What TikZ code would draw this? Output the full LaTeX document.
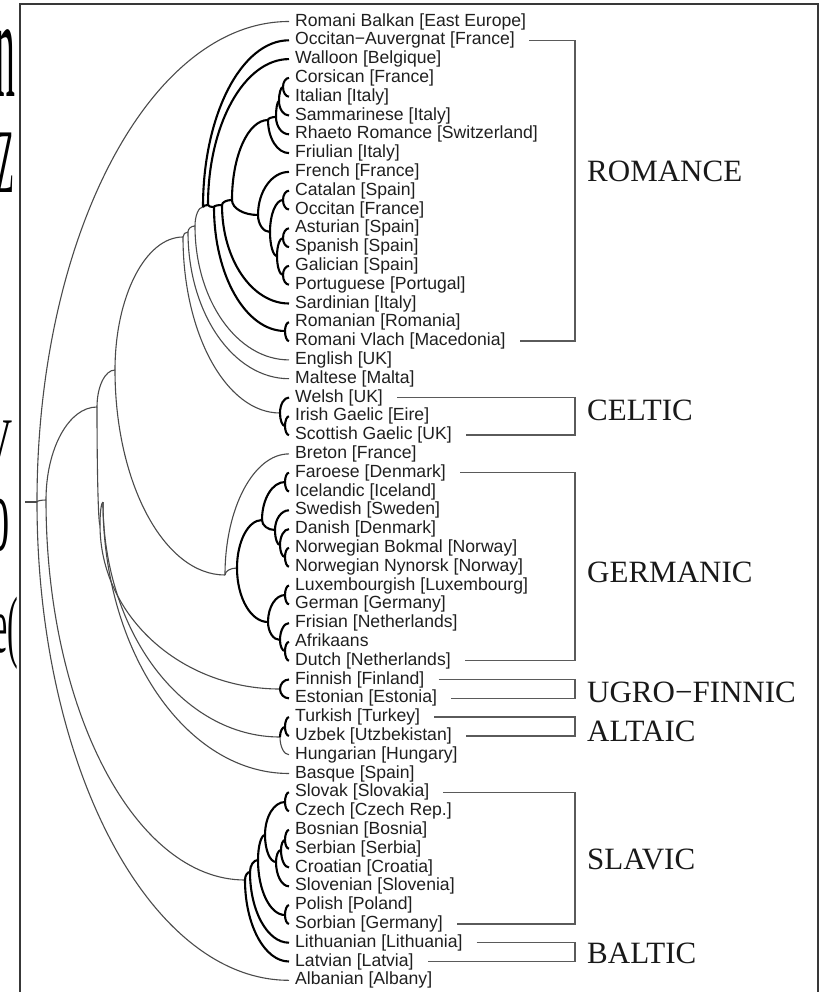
\documentclass[tikz,border=0pt]{standalone}
\usepackage{fontspec}
\setmainfont{Liberation Serif}
\setsansfont{Liberation Sans}
\usetikzlibrary{calc}

\definecolor{twiggray}{HTML}{4A4A4A}
\definecolor{bracketgray}{HTML}{5A5A5A}

\tikzset{
  leaf/.style={anchor=west, inner xsep=6pt, inner ysep=0pt, text height=12.8pt, text depth=3.7pt,
    font=\sffamily\fontsize{17.6}{18}\selectfont, text=black!88},
  family/.style={anchor=base west, inner sep=0pt, font=\fontsize{31}{32}\selectfont, text=black!90},
  shard/.style={anchor=base east, inner sep=0pt, text depth=0pt, text=black},
  branch/.style={to path={.. controls ($(\tikztostart)!0.5523!(\tikztostart|-\tikztotarget)$)
      and ($(\tikztotarget)!0.5523!(\tikztostart|-\tikztotarget)$) .. (\tikztotarget)}},
  twig/.style={draw=twiggray, line width=1.1pt},
  bough/.style={draw=black, line width=2.1pt},
  bracket/.style={draw=bracketgray, line width=1.4pt},
}

\begin{document}
\begin{tikzpicture}[x=1pt, y=-1pt]
  \useasboundingbox (0,0) rectangle (821,992);

  % pieces of a larger text cut by the left edge
  \begin{scope}
    \clip (0,0) rectangle (18.5,992);
    \node[shard, font=\fontsize{142}{142}\selectfont, xscale=0.28] (sh1) at (15,97) {n};
    \node[shard, font=\fontsize{91}{91}\selectfont, xscale=0.32] (sh2) at (14,193) {Z};
    \node[shard, font=\fontsize{65}{65}\selectfont, xscale=0.62] (sh3) at (13,463) {V};
    \node[shard, font=\fontsize{109}{109}\selectfont, xscale=0.37] (sh4) at (10,550) {o};
    \node[shard, font=\fontsize{80}{80}\selectfont, xscale=0.4] (sh5) at (18,652) {e(};
  \end{scope}
  \draw[line width=1.8pt, black!78] (20,1000) |- (818,4) -- (818,1000);

  % leaves
  \foreach \nm/\txt [count=\i] in {
    rbal/{Romani Balkan [East Europe]}, occa/{Occitan−Auvergnat [France]}, wal/{Walloon [Belgique]},
    cor/{Corsican [France]}, ita/{Italian [Italy]}, sam/{Sammarinese [Italy]},
    rha/{Rhaeto Romance [Switzerland]}, fri/{Friulian [Italy]}, fre/{French [France]},
    cat/{Catalan [Spain]}, occ/{Occitan [France]}, ast/{Asturian [Spain]}, spa/{Spanish [Spain]},
    gal/{Galician [Spain]}, por/{Portuguese [Portugal]}, srd/{Sardinian [Italy]},
    rom/{Romanian [Romania]}, vla/{Romani Vlach [Macedonia]}, eng/{English [UK]}, mal/{Maltese [Malta]},
    wel/{Welsh [UK]}, iri/{Irish Gaelic [Eire]}, sco/{Scottish Gaelic [UK]}, bre/{Breton [France]},
    far/{Faroese [Denmark]}, ice/{Icelandic [Iceland]}, swe/{Swedish [Sweden]}, dan/{Danish [Denmark]},
    nbo/{Norwegian Bokmal [Norway]}, nny/{Norwegian Nynorsk [Norway]},
    lux/{Luxembourgish [Luxembourg]}, ger/{German [Germany]}, frs/{Frisian [Netherlands]},
    afr/{Afrikaans}, dut/{Dutch [Netherlands]}, fin/{Finnish [Finland]}, est/{Estonian [Estonia]},
    tur/{Turkish [Turkey]}, uzb/{Uzbek [Utzbekistan]}, hun/{Hungarian [Hungary]}, bas/{Basque [Spain]},
    slk/{Slovak [Slovakia]}, cze/{Czech [Czech Rep.]}, bos/{Bosnian [Bosnia]}, ser/{Serbian [Serbia]},
    cro/{Croatian [Croatia]}, slv/{Slovenian [Slovenia]}, pol/{Polish [Poland]}, sor/{Sorbian [Germany]},
    lit/{Lithuanian [Lithuania]}, lat/{Latvian [Latvia]}, alb/{Albanian [Albany]}}
    \node[leaf] (\nm) at (289, {21.5+(\i-1)*18.8}) {\txt};

  % inner nodes of the tree
  \coordinate (rt) at (25,502);   \coordinate (r0) at (37,502);   \coordinate (r1) at (46,500);
  \coordinate (na) at (97,407);   \coordinate (nb) at (115,370);
  \coordinate (nf) at (100,525);  \coordinate (nf2) at (103,502);
  \coordinate (e1) at (183,237);  \coordinate (e2) at (188,232);  \coordinate (e3) at (195,226);
  \coordinate (ro1) at (203,207); \coordinate (ro2) at (208,205); \coordinate (ro3) at (214,207);
  \coordinate (ro4) at (222,205); \coordinate (ro5) at (232,200);
  \coordinate (nit1) at (283,87); \coordinate (nit2) at (279,101); \coordinate (nit3) at (276,117);
  \coordinate (nit4) at (268,120);
  \coordinate (nib1) at (283,200); \coordinate (nib2) at (283,238); \coordinate (nib3) at (283,275);
  \coordinate (nib4) at (277,256); \coordinate (nib5) at (270,232); \coordinate (nib6) at (258,215);
  \coordinate (nrv) at (285,331);
  \coordinate (nce) at (280,413); \coordinate (nce1) at (285,426);
  \coordinate (nbg) at (225,575); \coordinate (nge) at (237,568);
  \coordinate (nsc) at (262,520); \coordinate (nfi) at (285,482);
  \coordinate (nno3) at (275,530); \coordinate (nno2) at (280,545); \coordinate (nno1) at (285,557);
  \coordinate (nwg) at (268,622); \coordinate (nlg) at (285,595);
  \coordinate (nfad) at (280,640); \coordinate (nad) at (285,651);
  \coordinate (nfe) at (280,689);
  \coordinate (nal) at (280,737); \coordinate (ntu) at (285,727);
  \coordinate (nsb) at (245,880); \coordinate (nsb1) at (250,872);
  \coordinate (nsl) at (258,860); \coordinate (nsl1) at (265,835);
  \coordinate (nsc1) at (285,802); \coordinate (nbs3) at (276,862);
  \coordinate (nbs2) at (281,850); \coordinate (nbs1) at (285,840);
  \coordinate (nps) at (285,915);

  \draw[twig] (rt) -- (r0);
  \foreach \a/\b in {r0/rbal.west, r0/alb.west, r0/r1, r1/na, r1/nsb, na/nb, na/nf,
      nf/nfe, nf/nf2, nf2/nal, nf2/bas.west, nb/e1, nb/nbg, e1/e2, e1/nce, e2/e3,
      e2/mal.west, e3/ro1, e3/eng.west, nbg/bre.west, nbg/nge, nal/hun.west}
    \draw[twig] (\a) to[branch] (\b);

  \foreach \a/\b in {ro1/occa.west, ro1/ro2, ro2/wal.west, ro2/ro3, ro3/ro4, ro3/nrv,
      ro4/ro5, ro4/srd.west, ro5/nit4, ro5/nib6,
      nit4/nit3, nit4/fri.west, nit3/nit2, nit3/rha.west, nit2/nit1, nit2/sam.west,
      nit1/cor.west, nit1/ita.west,
      nib6/fre.west, nib6/nib5, nib5/nib1, nib5/nib4, nib1/cat.west, nib1/occ.west,
      nib4/nib2, nib4/nib3, nib2/ast.west, nib2/spa.west, nib3/gal.west, nib3/por.west,
      nrv/rom.west, nrv/vla.west,
      nce/wel.west, nce/nce1, nce1/iri.west, nce1/sco.west,
      nge/nsc, nge/nwg, nsc/nfi, nsc/nno3, nfi/far.west, nfi/ice.west,
      nno3/swe.west, nno3/nno2, nno2/dan.west, nno2/nno1, nno1/nbo.west, nno1/nny.west,
      nwg/nlg, nwg/nfad, nlg/lux.west, nlg/ger.west, nfad/frs.west, nfad/nad,
      nad/afr.west, nad/dut.west,
      nfe/fin.west, nfe/est.west, nal/ntu, ntu/tur.west, ntu/uzb.west,
      nsb/nsb1, nsb/lat.west, nsb1/nsl, nsb1/lit.west, nsl/nsl1, nsl/nps,
      nsl1/nsc1, nsl1/nbs3, nsc1/slk.west, nsc1/cze.west, nbs3/nbs2, nbs3/slv.west,
      nbs2/nbs1, nbs2/cro.west, nbs1/bos.west, nbs1/ser.west, nps/pol.west, nps/sor.west}
    \draw[bough] (\a) to[branch] (\b);

  % family brackets
  \coordinate (bx) at (575,0);
  \foreach \u/\l in {occa/vla, wel/sco, far/dut, fin/est, tur/uzb, slk/sor, lit/lat}
    \draw[bracket] ([xshift=8pt]\u.east) -- (\u.east -| bx) -- (\l.east -| bx) -- ([xshift=8pt]\l.east);

  \node[family] (romance) at (587,182) {ROMANCE};
  \node[family] (celtic) at (587,420) {CELTIC};
  \node[family] (germanic) at (587,582) {GERMANIC};
  \node[family] (ugro) at (587,702) {UGRO−FINNIC};
  \node[family] (altaic) at (587,741) {ALTAIC};
  \node[family] (slavic) at (587,869) {SLAVIC};
  \node[family] (baltic) at (587,963) {BALTIC};
\end{tikzpicture}
\end{document}
